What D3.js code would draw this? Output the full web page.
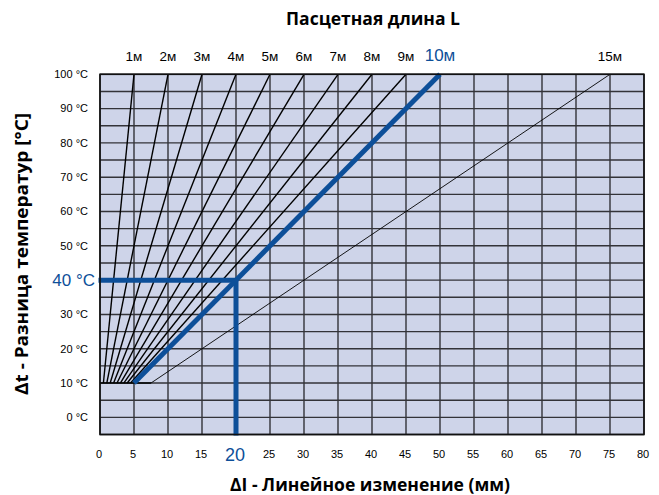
<!DOCTYPE html>
<html><head><meta charset="utf-8">
<script src="https://cdn.jsdelivr.net/npm/d3@7"></script>
<style>body{margin:0;background:#fff}</style>
</head><body>
<svg id="c" width="659" height="495"></svg>
<script>
// Data
const lengthLabels = ["1м","2м","3м","4м","5м","6м","7м","8м","9м","10м","15м"];
const startMm = [0.5,1,1.5,2,2.5,3,3.5,4,4.5,5,7.5];   // ΔL at 10 °C
const endMm   = [5,10,15,20,25,30,35,40,45,50,75];      // ΔL at 100 °C
const tStart = 10, tEnd = 100;
const xTicks = [0,5,10,15,20,25,30,35,40,45,50,55,60,65,70,75,80];
const yTicks = [0,10,20,30,40,50,60,70,80,90,100];
const highlightIndex = 9;        // 10 м
const highlightT = 40, highlightMm = 20;

const svg = d3.select("#c");
const x = d3.scaleLinear().domain([0,80]).range([100,644]);
const y = d3.scaleLinear().domain([-5,100]).range([434.5,74.3]);
const blue = "#0d4f99";
const font = "Liberation Sans, Arial, sans-serif";

// background
svg.append("rect").attr("x",x(0)).attr("y",y(100)).attr("width",x(80)-x(0)).attr("height",y(-5)-y(100)).attr("fill","#ced4e9");

// grid
const g = svg.append("g");
g.selectAll("line.v").data(d3.range(0,81,5)).join("line")
 .attr("x1",d=>x(d)).attr("x2",d=>x(d)).attr("y1",y(100)).attr("y2",y(-5))
 .attr("stroke","#333338").attr("stroke-width",1.4);
g.selectAll("line.h").data(d3.range(-5,101,5)).join("line")
 .attr("y1",d=>y(d)).attr("y2",d=>y(d)).attr("x1",x(0)).attr("x2",x(80))
 .attr("stroke","#333338").attr("stroke-width",1.4);

// baseline at 10 °C under the fan
svg.append("line").attr("x1",x(0)).attr("x2",x(startMm[10])).attr("y1",y(tStart)).attr("y2",y(tStart))
 .attr("stroke","#000").attr("stroke-width",1.6);

// lines
const lines = lengthLabels.map((l,i)=>({label:l,s:startMm[i],e:endMm[i],i}));
svg.selectAll("line.l").data(lines.filter(d=>d.i!==highlightIndex)).join("line")
 .attr("x1",d=>x(d.s)).attr("y1",y(tStart)).attr("x2",d=>x(d.e)).attr("y2",y(tEnd))
 .attr("stroke","#000").attr("stroke-width",d=>d.i===10?0.9:1.4);

// highlight
svg.append("line").attr("x1",x(0)-1.5).attr("x2",x(highlightMm)).attr("y1",y(highlightT)).attr("y2",y(highlightT))
 .attr("stroke",blue).attr("stroke-width",5);
svg.append("line").attr("x1",x(highlightMm)).attr("x2",x(highlightMm)).attr("y1",y(highlightT)).attr("y2",y(-5)+1)
 .attr("stroke",blue).attr("stroke-width",5);
const hl = lines[highlightIndex];
svg.append("line").attr("x1",x(hl.s)).attr("y1",y(tStart)).attr("x2",x(hl.e)).attr("y2",y(tEnd))
 .attr("stroke",blue).attr("stroke-width",5);

// border
svg.append("rect").attr("x",x(0)).attr("y",y(100)).attr("width",x(80)-x(0)).attr("height",y(-5)-y(100))
 .attr("fill","none").attr("stroke","#111").attr("stroke-width",1.6);

// top labels
svg.selectAll("text.top").data(lines).join("text")
 .attr("x",d=>x(d.e)).attr("y",60.5).attr("text-anchor","middle")
 .attr("font-family",font).attr("font-size",d=>d.i===highlightIndex?17:13.5)
 .attr("fill",d=>d.i===highlightIndex?blue:"#000").text(d=>d.label);

// y tick labels
svg.selectAll("text.yt").data(yTicks).join("text")
 .attr("x",d=>d===highlightT?95:88).attr("y",d=>y(d)).attr("dy","0.35em").attr("text-anchor","end")
 .attr("font-family",font).attr("font-size",d=>d===highlightT?17:11)
 .attr("fill",d=>d===highlightT?blue:"#000").text(d=>d+" °C");

// x tick labels
svg.selectAll("text.xt").data(xTicks).join("text")
 .attr("x",d=>x(d)-1).attr("y",d=>d===highlightMm?461:458).attr("text-anchor","middle")
 .attr("font-family",font).attr("font-size",d=>d===highlightMm?18:11)
 .attr("fill",d=>d===highlightMm?blue:"#000").text(d=>d);

// titles
const tf = "Open Sans, sans-serif";
svg.append("text").attr("x",286).attr("y",25).attr("font-family",tf).attr("font-weight",700)
 .attr("font-size",17).attr("textLength",174).attr("lengthAdjust","spacingAndGlyphs").text("Пасцетная длина L");
svg.append("text").attr("x",230).attr("y",491).attr("font-family",tf).attr("font-weight",700)
 .attr("font-size",17).attr("textLength",280).attr("lengthAdjust","spacingAndGlyphs").text("ΔI - Линейное изменение (мм)");
svg.append("text").attr("transform","translate(28,395) rotate(-90)").attr("font-family",tf).attr("font-weight",700)
 .attr("font-size",17).attr("textLength",282).attr("lengthAdjust","spacingAndGlyphs").text("Δt - Разница температур [°C]");
</script>
</body></html>
